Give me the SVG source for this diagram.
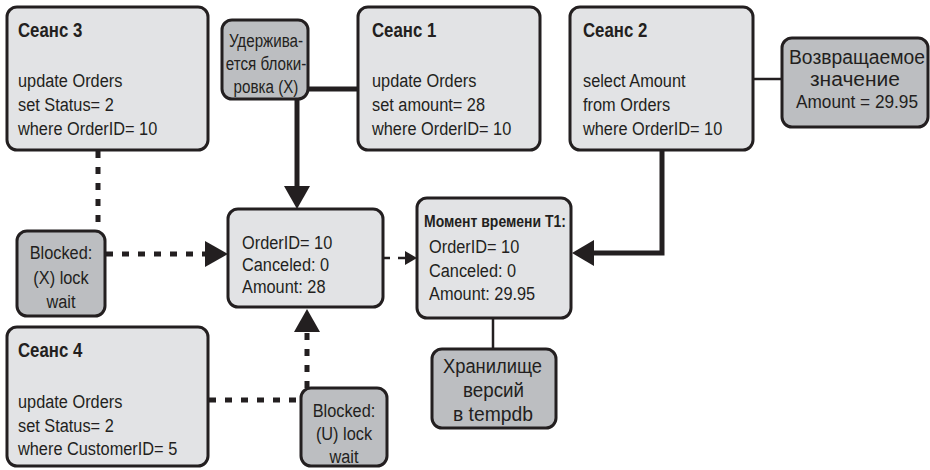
<svg xmlns="http://www.w3.org/2000/svg" width="930" height="470" viewBox="0 0 930 470">
<defs>
<style>
.box{fill:#e2e3e5;stroke:#231f20;stroke-width:3}
.dark{fill:#bcbec1;stroke:#231f20;stroke-width:3}
text{font-family:"Liberation Sans",Arial,sans-serif;font-size:19px;fill:#231f20}
.t{font-weight:bold;font-size:21px}
.c{text-anchor:middle}
.thick{stroke:#231f20;stroke-width:5;fill:none}
.thin{stroke:#231f20;stroke-width:2.5;fill:none}
.dot{stroke:#231f20;stroke-width:5;fill:none;stroke-dasharray:7 9}
.ah{fill:#231f20}
</style>
</defs>
<rect width="930" height="470" fill="#ffffff"/>
<g id="connectors">
<line class="thick" x1="308" y1="89" x2="358" y2="89"/>
<line class="thick" x1="297" y1="99" x2="297" y2="188"/>
<polygon class="ah" points="284,186 310,186 297,209"/>
<line class="thin" x1="753" y1="79" x2="782" y2="79"/>
<polyline class="thick" points="662,150 662,253 592,253"/>
<polygon class="ah" points="594,240 594,266 572,253"/>
<line class="dot" x1="98" y1="151" x2="98" y2="231"/>
<line class="dot" x1="106" y1="254" x2="206" y2="254"/>
<polygon class="ah" points="205,241 205,267 228,254"/>
<line class="thin" x1="384" y1="258" x2="390" y2="258"/>
<line class="thin" x1="398" y1="258" x2="407" y2="258"/>
<polygon class="ah" points="405,251 405,265 417,258"/>
<line class="thin" x1="493" y1="318" x2="493" y2="349"/>
<line class="dot" x1="209" y1="400" x2="301" y2="400"/>
<line class="dot" x1="307" y1="388" x2="307" y2="331"/>
<polygon class="ah" points="294,332 320,332 307,309"/>
</g>
<g id="session3">
<rect class="box" x="7" y="7" width="201" height="143" rx="10"/>
<text class="t" x="0" y="37" transform="translate(18,0) scale(0.8,1)">Сеанс 3</text>
<g transform="translate(18,0) scale(0.86,1)">
<text x="0" y="87">update Orders</text>
<text x="0" y="111">set Status= 2</text>
<text x="0" y="135">where OrderID= 10</text>
</g>
</g>
<g id="lockX">
<rect class="dark" x="222" y="20" width="86" height="79" rx="10"/>
<g transform="translate(266,0) scale(0.8,1)">
<text class="c" x="0" y="47">Удержива-</text>
<text class="c" x="0" y="70">ется блоки-</text>
<text class="c" x="0" y="93">ровка (X)</text>
</g>
</g>
<g id="session1">
<rect class="box" x="358" y="7" width="182" height="143" rx="10"/>
<text class="t" x="0" y="37" transform="translate(372,0) scale(0.8,1)">Сеанс 1</text>
<g transform="translate(372,0) scale(0.86,1)">
<text x="0" y="87">update Orders</text>
<text x="0" y="111">set amount= 28</text>
<text x="0" y="135">where OrderID= 10</text>
</g>
</g>
<g id="session2">
<rect class="box" x="570" y="7" width="183" height="143" rx="10"/>
<text class="t" x="0" y="37" transform="translate(583,0) scale(0.8,1)">Сеанс 2</text>
<g transform="translate(583,0) scale(0.86,1)">
<text x="0" y="87">select Amount</text>
<text x="0" y="111">from Orders</text>
<text x="0" y="135">where OrderID= 10</text>
</g>
</g>
<g id="returnValue">
<rect class="dark" x="782" y="38" width="146" height="89" rx="10"/>
<text x="789" y="64" style="font-size:20px" textLength="136" lengthAdjust="spacingAndGlyphs">Возвращаемое</text>
<text x="810" y="86" style="font-size:20px" textLength="90" lengthAdjust="spacingAndGlyphs">значение</text>
<text x="796" y="108" style="font-size:19px" textLength="122" lengthAdjust="spacingAndGlyphs">Amount = 29.95</text>
</g>
<g id="blockedX">
<rect class="dark" x="17" y="231" width="88" height="85" rx="10"/>
<g transform="translate(61,0) scale(0.86,1)">
<text class="c" x="0" y="259">Blocked:</text>
<text class="c" x="0" y="284">(X) lock</text>
<text class="c" x="0" y="308">wait</text>
</g>
</g>
<g id="row">
<rect class="box" x="228" y="209" width="155" height="98" rx="10"/>
<g transform="translate(242,0) scale(0.86,1)">
<text x="0" y="249">OrderID= 10</text>
<text x="0" y="271">Canceled: 0</text>
<text x="0" y="293">Amount: 28</text>
</g>
</g>
<g id="versionT1">
<rect class="box" x="417" y="198" width="154" height="120" rx="10"/>
<text x="424" y="227" style="font-size:17px;font-weight:bold" textLength="142" lengthAdjust="spacingAndGlyphs">Момент времени T1:</text>
<g transform="translate(429,0) scale(0.86,1)">
<text x="0" y="253">OrderID= 10</text>
<text x="0" y="277">Canceled: 0</text>
<text x="0" y="300">Amount: 29.95</text>
</g>
</g>
<g id="versionStore">
<rect class="dark" x="432" y="349" width="124" height="79" rx="10"/>
<text x="443" y="373" style="font-size:20px" textLength="99" lengthAdjust="spacingAndGlyphs">Хранилище</text>
<text x="463" y="397" style="font-size:20px" textLength="61" lengthAdjust="spacingAndGlyphs">версий</text>
<text x="453" y="421" style="font-size:20px" textLength="80" lengthAdjust="spacingAndGlyphs">в tempdb</text>
</g>
<g id="session4">
<rect class="box" x="7" y="327" width="201" height="139" rx="10"/>
<text class="t" x="0" y="357" transform="translate(18,0) scale(0.8,1)">Сеанс 4</text>
<g transform="translate(18,0) scale(0.86,1)">
<text x="0" y="408">update Orders</text>
<text x="0" y="432">set Status= 2</text>
<text x="0" y="455">where CustomerID= 5</text>
</g>
</g>
<g id="blockedU">
<rect class="dark" x="301" y="388" width="86" height="78" rx="10"/>
<g transform="translate(344,0) scale(0.86,1)">
<text class="c" x="0" y="417">Blocked:</text>
<text class="c" x="0" y="440">(U) lock</text>
<text class="c" x="0" y="463">wait</text>
</g>
</g>
</svg>
